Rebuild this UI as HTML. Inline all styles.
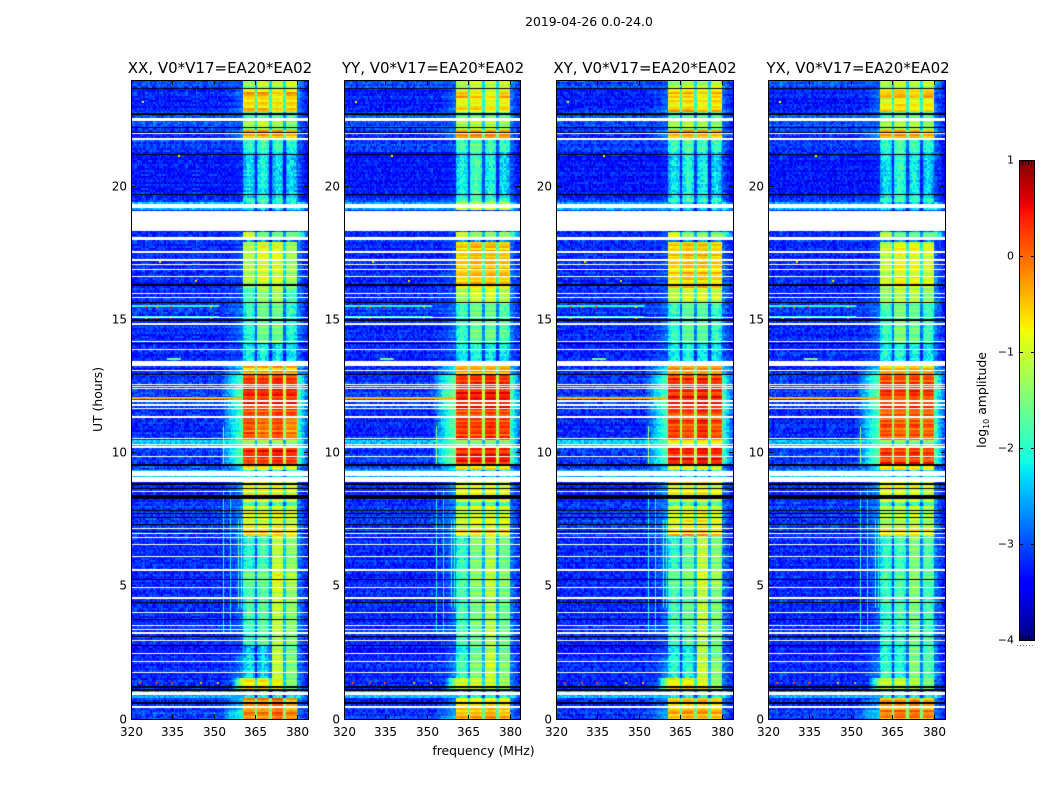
<!DOCTYPE html>
<html lang="en">
<head>
<meta charset="utf-8">
<title>2019-04-26 amplitude waterfall</title>
<style>
html,body{margin:0;padding:0;background:#fff;}
#figure{position:relative;width:1050px;height:800px;overflow:hidden;background:#fff;font-family:"DejaVu Sans","Liberation Sans",sans-serif;}
canvas{position:absolute;top:80px;}
svg{position:absolute;left:0;top:0;}
text{font-family:"DejaVu Sans","Liberation Sans",sans-serif;fill:#000;}
</style>
</head>
<body>
<div id="figure">
<canvas id="c0" width="177" height="640" style="left:131px"></canvas>
<canvas id="c1" width="176" height="640" style="left:344px"></canvas>
<canvas id="c2" width="177" height="640" style="left:556px"></canvas>
<canvas id="c3" width="177" height="640" style="left:768px"></canvas>
<svg id="overlay" width="1050" height="800" xmlns="http://www.w3.org/2000/svg">
<text x="589" y="26" text-anchor="middle" font-size="12.4">2019-04-26 0.0-24.0</text>
<text x="220" y="73" text-anchor="middle" font-size="15">XX, V0*V17=EA20*EA02</text>
<text x="433" y="73" text-anchor="middle" font-size="15">YY, V0*V17=EA20*EA02</text>
<text x="645" y="73" text-anchor="middle" font-size="15">XY, V0*V17=EA20*EA02</text>
<text x="858" y="73" text-anchor="middle" font-size="15">YX, V0*V17=EA20*EA02</text>
<text x="483.5" y="755" text-anchor="middle" font-size="12.4">frequency (MHz)</text>
<text transform="translate(102,399.5) rotate(-90)" text-anchor="middle" font-size="12.4">UT (hours)</text>
<text transform="translate(986,400) rotate(-90)" text-anchor="middle" font-size="12.4">log<tspan font-size="8" dy="3">10</tspan><tspan dy="-3"> amplitude</tspan></text>
</svg>
</div>
<script>
// Axis ticks
const freqTicks = [320, 335, 350, 365, 380];
const utTicks = [0, 5, 10, 15, 20];
const colorbarTicks = [1, 0, -1, -2, -3, -4];
const colorbarTickLabels = ["1", "0", "\u22121", "\u22122", "\u22123", "\u22124"];

// Frequency regions (MHz): background, two shoulders, four bright blocks and the dips between them
const regionEdges = [320, 352, 356.3, 360.5, 365.2, 365.6, 370.2, 371, 375.2, 375.8, 380, 384];

// Time bands (UT hours): one row of each level table per band
const bandEdges = [0,0.35,0.85,1.1,1.58,2.4,2.8,3.5,5,5.6,6.9,7.1,8,8.2,8.9,9.4,9.6,10.2,10.5,11.3,11.6,12.5,13,13.3,13.5,14.1,15.2,15.6,16.2,17,17.9,18.05,18.33,19.1,19.4,19.6,21.3,21.85,22.1,22.5,22.8,22.95,23.35,23.55,23.7,24];

// log10 amplitude for the 320-352 MHz background and for the 380-384 MHz edge
const backgroundLevels = [-3.1,-3.2,-2.5,-3.2,-3.2,-3.3,-3.2,-3.2,-3.2,-3.2,-3.1,-3.1,-3.1,-3.2,-2.5,-3,-3.1,-2.4,-3.2,-3.2,-3.1,-3.1,-3.2,-3.2,-3.2,-3.2,-3.1,-3.2,-3.2,-3.2,-3.1,-3.2,-3.2,-2.5,-3.1,-3.3,-3.1,-3.2,-3,-3,-3.2,-3.3,-3.2,-3.3,-3];
const edgeLevels = [-3,-3,-2.5,-3,-3,-3.1,-3,-3,-3,-3,-3,-3,-3,-3,-2.5,-3,-2.3,-2.4,-2.4,-2.4,-2.3,-2.3,-2.7,-3,-3.1,-3,-3,-3,-3,-3.1,-3.1,-2.2,-3,-2.5,-3.1,-3.2,-3.1,-3,-3,-3,-3,-3.1,-3,-3.1,-2.9];

// Per-polarisation levels: [shoulder1, shoulder2, block1, block2, block3, block4]
const xxLevels = [
[-2.4,-2.1,-.2,-.2,0,-.2],[-2.8,-2.5,-.35,-.3,-.1,-.5],[-2.5,-2.5,-2.2,-2.2,-2.2,-2.2],[-3.1,-.9,-.8,-.8,-.9,-1.5],[-3.1,-2.7,-2.3,-2.4,-1.1,-1.5],[-3.2,-3,-2.5,-2.5,-1.2,-1.6],[-3.1,-3,-2,-1.8,-1.2,-1.5],[-3.2,-2.8,-1.9,-1.8,-1.1,-1.4],[-3.1,-2.8,-1.6,-1.6,-.9,-1.2],[-3.1,-2.7,-2.1,-1.9,-1.1,-1.4],[-3,-2.5,-.4,-.4,-.4,-.6],
[-3,-2.6,-.9,-1,-.9,-1],[-3,-2.8,-1.9,-1.8,-1.9,-1.9],[-3,-2.6,-.8,-.8,-.8,-.9],[-2.5,-2.4,-2.2,-2.2,-2.2,-2.2],[-2.7,-2.2,-.7,-.7,-.7,-.9],[-2.3,-1.6,.25,.3,.4,.3],[-2.2,-1.6,-1.4,-1.4,-1.4,-1.4],[-2.4,-1.7,.1,-.1,.1,-.2],[-2.5,-1.8,0,0,.1,.05],[-2.4,-1.6,.3,.3,.35,.3],[-2.4,-1.7,.2,.2,.3,.2],
[-2.7,-2.2,-.4,-.4,-.3,-.4],[-3.1,-3,-2.2,-2.2,-2.3,-2.3],[-3.1,-3,-2.2,-2.2,-2.3,-2.3],[-3.1,-2.8,-2.1,-1.6,-1.6,-2.1],[-3,-2.8,-2,-1.6,-1.6,-2],[-3.1,-3,-1.9,-1.4,-1.3,-1.9],[-3.1,-3,-1.2,-1,-1,-1.3],[-3.2,-3,-1.2,-.9,-.9,-1.3],[-3.1,-3,-2.7,-2.7,-2.7,-2.7],[-3.2,-3,-1,-1.6,-1.6,-1.6],[-3.2,-3,-3,-3,-3,-3],[-2.6,-2.5,-2.3,-2.3,-2.3,-2.3],[-3.1,-3,-1.9,-1.8,-1.9,-2],[-3.3,-3.2,-2.4,-2.2,-2.4,-2.4],
[-3.1,-3,-2,-1.9,-2,-2.1],[-3,-2.6,-.4,-.3,-.3,-.5],[-3,-2.9,-1.3,-1.1,-1.3,-1.5],[-3,-2.9,-1.8,-1.7,-1.7,-1.8],[-3,-2.7,-.35,-.35,-.6,-.5],[-3.2,-2.9,-.75,-.7,-.8,-.7],[-3.1,-2.8,-.4,-.4,-.7,-.4],[-3.2,-2.9,-.8,-.75,-.8,-.75],[-3,-3,-1.4,-1.1,-1.2,-1]
];
const yyLevels = [
[-2.8,-2.5,-.45,-.4,-.3,-.45],[-3,-2.7,-.6,-.6,-.5,-.6],[-2.5,-2.5,-2.2,-2.2,-2.2,-2.2],[-3.1,-1.1,-1,-1,-1,-1.3],[-3.1,-2.7,-1.9,-1.5,-1.1,-1.5],[-3.2,-3,-2.1,-1.7,-1.2,-1.6],[-3.1,-3,-1.9,-1.6,-1.2,-1.6],[-3.2,-2.8,-1.9,-1.5,-1.2,-1.6],[-3.1,-2.8,-1.8,-1.4,-1.1,-1.4],[-3.1,-2.7,-2,-1.5,-1.2,-1.6],[-3,-2.5,-.6,-.5,-.5,-.6],
[-3,-2.6,-1.1,-.9,-.9,-1],[-3,-2.8,-1.9,-1.7,-1.8,-1.9],[-3,-2.6,-.9,-.8,-.8,-.9],[-2.5,-2.4,-2.2,-2.2,-2.2,-2.2],[-2.7,-2.2,-.8,-.7,-.7,-.8],[-2,-1.5,.35,.35,.4,.35],[-2.1,-1.6,-1.4,-1.4,-1.4,-1.4],[-2.2,-1.6,.25,.2,.3,.2],[-2.3,-1.7,.1,.1,.2,.15],[-2,-1.5,.35,.35,.4,.35],[-2.1,-1.6,.3,.3,.35,.3],
[-2.6,-2.1,-.3,-.3,-.3,-.3],[-3.1,-3,-2.2,-2.1,-2.2,-2.3],[-3.1,-3,-2.2,-2.1,-2.2,-2.3],[-3.1,-2.8,-2,-1.6,-1.6,-1.8],[-3,-2.8,-1.9,-1.6,-1.6,-1.8],[-3.1,-3,-1.3,-1,-1,-1.2],[-3.1,-3,-.6,-.5,-.5,-.55],[-3.2,-3,-.55,-.4,-.4,-.5],[-3.1,-3,-2.7,-2.7,-2.7,-2.7],[-3.2,-3,-.9,-1.3,-1.3,-1.3],[-3.2,-3,-3,-3,-3,-3],[-2.6,-2.5,-.9,-.9,-.9,-.9],[-3.1,-3,-1.9,-1.8,-1.9,-2],[-3.3,-3.2,-2.2,-1.9,-2.1,-2.4],
[-3.1,-3,-1.9,-1.7,-1.9,-2],[-3,-2.6,-.3,-.25,-.25,-.3],[-3,-2.9,-1.2,-1.1,-1.1,-1.3],[-3,-2.9,-1.7,-1.6,-1.6,-1.7],[-3,-2.7,-.6,-.55,-.7,-.65],[-3.2,-2.9,-.85,-.8,-.85,-.8],[-3.1,-2.8,-.4,-.6,-.8,-.45],[-3.2,-2.9,-.9,-.85,-.9,-.85],[-3,-3,-1.3,-1.1,-1.2,-1.1]
];
const xyLevels = [
[-2.8,-2.5,-.4,-.3,-.3,-.4],[-3,-2.7,-.55,-.5,-.45,-.6],[-2.5,-2.5,-2.2,-2.2,-2.2,-2.2],[-3.1,-1,-.8,-.8,-.9,-1.4],[-3.1,-2.7,-2.1,-2.1,-1.1,-1.5],[-3.2,-3,-2.2,-2.2,-1.2,-1.6],[-3.1,-3,-1.9,-1.8,-1.2,-1.6],[-3.2,-2.8,-1.9,-1.7,-1.1,-1.5],[-3.1,-2.8,-1.7,-1.5,-1,-1.3],[-3.1,-2.7,-2,-1.7,-1.1,-1.5],[-3,-2.5,-.5,-.4,-.4,-.6],
[-3,-2.6,-1,-.9,-.8,-1],[-3,-2.8,-1.9,-1.8,-1.8,-1.9],[-3,-2.6,-.8,-.8,-.7,-.9],[-2.5,-2.4,-2.2,-2.2,-2.2,-2.2],[-2.7,-2.2,-.7,-.7,-.7,-.9],[-2.3,-1.7,.35,.3,.4,.3],[-2.2,-1.6,-.9,-.9,-.9,-.9],[-2.4,-1.7,.2,.1,.3,.1],[-2.5,-1.8,.1,.1,.2,.1],[-2.3,-1.7,.35,.3,.4,.3],[-2.3,-1.7,.3,.25,.35,.25],
[-2.7,-2.2,-.3,-.3,-.3,-.3],[-3.1,-3,-2.2,-2.1,-2.2,-2.3],[-3.1,-3,-2.2,-2.1,-2.2,-2.3],[-3.1,-2.8,-2,-1.7,-1.7,-2],[-3,-2.8,-1.9,-1.7,-1.7,-1.9],[-3.1,-3,-1.2,-1,-1,-1.1],[-3.1,-3,-.7,-.55,-.55,-.65],[-3.2,-3,-.6,-.5,-.5,-.6],[-3.1,-3,-2.7,-2.7,-2.7,-2.7],[-3.2,-3,-1,-1.5,-1.5,-1.5],[-3.2,-3,-3,-3,-3,-3],[-2.6,-2.5,-2.3,-2.3,-2.3,-2.3],[-3.1,-3,-1.9,-1.8,-1.9,-2],[-3.3,-3.2,-2.3,-2.1,-2.2,-2.4],
[-3.1,-3,-2,-1.8,-1.9,-2],[-3,-2.6,-.45,-.35,-.4,-.5],[-3,-2.9,-1.2,-1.1,-1.2,-1.4],[-3,-2.9,-1.8,-1.7,-1.7,-1.8],[-3,-2.7,-.4,-.4,-.6,-.5],[-3.2,-2.9,-.75,-.7,-.8,-.7],[-3.1,-2.8,-.45,-.45,-.7,-.45],[-3.2,-2.9,-.8,-.75,-.8,-.75],[-3,-3,-1.3,-1.1,-1.2,-1]
];
const yxLevels = [
[-2.6,-2.4,-.2,-.1,-.1,-.2],[-2.9,-2.6,-.3,-.3,-.2,-.4],[-2.5,-2.5,-2.2,-2.2,-2.2,-2.2],[-3.1,-1.2,-1.1,-1.1,-1.2,-1.5],[-3.1,-2.7,-2,-2.1,-1.5,-1.8],[-3.2,-3,-2.2,-2.2,-1.6,-1.9],[-3.1,-3,-2,-2,-1.6,-1.9],[-3.2,-2.8,-2,-1.9,-1.5,-1.9],[-3.1,-2.8,-1.9,-1.8,-1.4,-1.7],[-3.1,-2.7,-2,-1.9,-1.5,-1.8],[-3,-2.5,-.6,-.6,-.6,-.7],
[-3,-2.6,-1.2,-1.1,-1,-1.2],[-3,-2.8,-2,-1.9,-1.9,-2],[-3,-2.6,-.9,-.9,-.9,-1],[-2.5,-2.4,-2.2,-2.2,-2.2,-2.2],[-2.7,-2.2,-.8,-.8,-.8,-.9],[-2.2,-1.6,.25,.2,.3,.2],[-2.2,-1.6,-1.4,-1.4,-1.4,-1.4],[-2.3,-1.7,.1,0,.1,0],[-2.4,-1.8,0,0,.05,0],[-2.2,-1.6,.25,.2,.3,.2],[-2.3,-1.7,.15,.15,.2,.15],
[-2.7,-2.2,-.4,-.4,-.35,-.4],[-3.1,-3,-2.2,-2.1,-2.2,-2.3],[-3.1,-3,-2.2,-2.1,-2.2,-2.3],[-3.1,-2.8,-1.9,-1.5,-1.6,-1.9],[-3,-2.8,-1.9,-1.5,-1.6,-1.9],[-3.1,-3,-1.4,-1.2,-1.2,-1.4],[-3.1,-3,-1.1,-.8,-.85,-1],[-3.2,-3,-1.1,-.8,-.85,-.95],[-3.1,-3,-2.7,-2.7,-2.7,-2.7],[-3.2,-3,-1.1,-1.6,-1.6,-1.6],[-3.2,-3,-3,-3,-3,-3],[-2.6,-2.5,-2.3,-2.3,-2.3,-2.3],[-3.1,-3,-1.9,-1.8,-1.9,-2],[-3.3,-3.2,-2.3,-2,-2.2,-2.4],
[-3.1,-3,-2,-1.8,-1.9,-2],[-3,-2.6,-.45,-.35,-.4,-.55],[-3,-2.9,-1.3,-1.2,-1.2,-1.4],[-3,-2.9,-1.8,-1.7,-1.7,-1.8],[-3,-2.7,-.5,-.5,-.7,-.6],[-3.2,-2.9,-.9,-.7,-.85,-.8],[-3.1,-2.8,-.5,-.45,-.6,-.4],[-3.2,-2.9,-.9,-.8,-.85,-.8],[-3,-3,-1.3,-1.1,-1.2,-1.1]
];
const panelLevels = [xxLevels, yyLevels, xyLevels, yxLevels];

// Flagged (blank) and zero-amplitude (black) integrations, UT hours [start, end]
const blankRows = [[.45,.49],[.92,1.03],[1.73,1.77],[2.14,2.18],[2.44,2.48],[2.95,3],[3.22,3.27],[3.36,3.41],[3.49,3.54],[4.01,4.05],[4.54,4.58],[4.92,4.96],[5.59,5.65],[6.08,6.12],[6.56,6.6],[6.82,6.86],[6.96,7],[7.17,7.2],[8.55,8.59],[8.92,9.1],[9.14,9.32],[9.85,9.89],[10.2,10.26],[10.3,10.33],[10.53,10.57],[11.33,11.37],[11.66,11.7],[11.78,11.82],[11.93,11.97],[12.41,12.45],[12.49,12.52],[12.56,12.6],[13.06,13.1],[13.27,13.45],[13.88,13.92],[14.15,14.19],[14.82,14.86],[15.07,15.11],[15.8,15.84],[15.98,16.02],[16.62,16.66],[16.88,16.92],[17.07,17.11],[17.22,17.27],[17.52,17.57],[18.01,18.1],[18.33,19.07],[19.2,19.36],[21.75,21.82],[21.97,22.01],[22.45,22.57]];
const zeroRows = [[.6,.64],[1.08,1.14],[1.2,1.24],[2.74,2.78],[3.08,3.12],[3.72,3.76],[4.36,4.4],[5.22,5.26],[7.05,7.09],[7.31,7.34],[7.58,7.61],[7.73,7.76],[7.84,7.87],[8.27,8.42],[8.67,8.7],[8.8,8.87],[9.53,9.57],[12.94,12.97],[14.09,14.13],[14.97,15.02],[15.62,15.66],[16.28,16.33],[19.68,19.72],[21.18,21.22],[22.02,22.06],[22.21,22.25],[22.7,22.76],[23.66,23.7]];

// Narrow interference features: [freq MHz, UT start, UT end, level]
const verticalStreaks = [[353.2,3.2,8.6,-2.1],[353.2,9.6,11,-1.3],[355.8,3.2,8.6,-2.2],[358.7,4.2,7.5,-2],[359.6,4.2,7.5,-2.1]];
// Horizontal lines: [UT start, UT end, freq start, freq end, level]
const horizontalStreaks = [[12.04,12.09,320,360,-0.4],[15.48,15.56,320,352,-2],[15.1,15.15,320,352,-1.9],[13.52,13.57,333,338,-1.6]];
// Isolated bright samples: [freq MHz, UT, level]
const hotSamples = [[325,15.5,.2],[329,15.5,-.2],[334,15.5,.3],[348.5,15.5,-.5],[325,15.1,-.3],[329,15.1,.2],[334,15.1,.3],[348.5,15.1,-.3],[323,1.4,.2],[329,1.4,.2],[334.5,1.4,.2],[345,1.4,-.4],[351,1.4,-.4],[324,23.2,-.8],[330,17.2,-.6],[337,21.2,-.8],[343,16.5,-.6]];

// Fine-grain texture offsets estimated by eye from the reference speckle
const rowRipple = [.1,-.15,.05,.2,-.1,0,-.2,.15,.05,-.05,.25,-.1,-.2,.1,0,.15,-.15,.05,-.05,.2,-.25,.1,0,-.1,.15,-.05,.05,-.2,.1,.2,-.1];
const channelRipple = [.05,-.1,.1,0,-.05,.15,-.15,.05,.1,-.1,0,.05,-.2,.15,.05,-.05,.1,-.15,.2,0,-.1,.05,-.05,.1,-.2,.15,0,.05,-.1];
const speckle = [.22,-.31,.08,.41,-.12,-.38,.17,.03,-.24,.35,-.07,.28,-.44,.11,.19,-.16,.46,-.29,.06,-.09,.33,-.36,.14,.25,-.2,-.02,.39,-.33,.09,-.14,.3,-.41,.16,.01,-.26,.37,-.05];
// Level across one block from its low-frequency to its high-frequency edge
const blockProfile = [-.3,-.1,0,.1,.15,.1,0,-.1,-.25];

const panelLefts = [131, 344, 556, 768];
const panelNames = ["xx", "yy", "xy", "yx"];

function xScale(panelLeft, mhz) { return panelLeft + (mhz - 320) * 2.766; }
function yScale(ut) { return 719.5 - ut * 26.65; }
function colorValue(v) { return 640 - (v + 4) * 96; }

function ramp(t, points) {
  for (let i = 1; i < points.length; i++) {
    if (t <= points[i][0]) {
      const a = points[i - 1];
      const b = points[i];
      return a[1] + (b[1] - a[1]) * (t - a[0]) / (b[0] - a[0]);
    }
  }
  return points[points.length - 1][1];
}
function jet(v) {
  const t = Math.max(0, Math.min(1, (v + 4) / 5));
  const r = ramp(t, [[0,0],[.35,0],[.66,1],[.89,1],[1,.5]]);
  const g = ramp(t, [[0,0],[.125,0],[.375,1],[.64,1],[.91,0],[1,0]]);
  const b = ramp(t, [[0,.5],[.11,1],[.34,1],[.65,0],[1,0]]);
  return "rgb(" + Math.round(r * 255) + "," + Math.round(g * 255) + "," + Math.round(b * 255) + ")";
}
function bandIndex(ut) {
  for (let i = 1; i < bandEdges.length; i++) { if (ut < bandEdges[i]) return i - 1; }
  return bandEdges.length - 2;
}
function blockCell(level, mhz, lo, hi, rowN, chanN, sp) {
  const frac = (mhz - lo) / (hi - lo);
  const prof = blockProfile[Math.min(blockProfile.length - 1, Math.floor(frac * blockProfile.length))];
  if (level < -1.75) return level + prof + sp * .7 + chanN * .3 + rowN * .4;
  return level + prof * .25 + sp * .15 + chanN * .1 + rowN * 1.2;
}
function gapCell(a, b, rowN, sp) {
  return (a + b) / 2 * .8 - 1.4 + sp * .3 + rowN * .4;
}
function cellValue(table, band, mhz, rowN, chanN, sp) {
  const row = table[band];
  const e = regionEdges;
  const bg = backgroundLevels[band];
  if (mhz < e[1]) return bg + sp * .7 + chanN * .3 + rowN * .5;
  if (mhz < e[2]) return bg + (row[0] - bg) * (mhz - e[1]) / (e[2] - e[1]) + sp * .6 + rowN * .5;
  if (mhz < e[3]) return row[0] + (row[1] - row[0]) * (mhz - e[2]) / (e[3] - e[2]) + sp * .4 + rowN * .6;
  if (mhz < e[4]) return blockCell(row[2], mhz, e[3], e[4], rowN, chanN, sp);
  if (mhz < e[5]) return gapCell(row[2], row[3], rowN, sp);
  if (mhz < e[6]) return blockCell(row[3], mhz, e[5], e[6], rowN, chanN, sp);
  if (mhz < e[7]) return gapCell(row[3], row[4], rowN, sp);
  if (mhz < e[8]) return blockCell(row[4], mhz, e[7], e[8], rowN, chanN, sp);
  if (mhz < e[9]) return gapCell(row[4], row[5], rowN, sp);
  if (mhz < e[10]) return blockCell(row[5], mhz, e[9], e[10], rowN, chanN, sp);
  const edge = edgeLevels[band];
  const slope = edge > -2.6 ? .35 : .15;
  return edge + (382 - mhz) * slope + sp * .6 + rowN * .5;
}

function drawPanel(p) {
  const ctx = document.getElementById("c" + p).getContext("2d");
  const left = panelLefts[p];
  const table = panelLevels[p];
  const nRows = 320, nChan = 128;
  const du = 24 / nRows, df = 64 / nChan;
  for (let r = 0; r < nRows; r++) {
    const ut = (r + .5) * du;
    const band = bandIndex(ut);
    const y0 = Math.round(yScale((r + 1) * du)) - 80;
    const y1 = Math.round(yScale(r * du)) - 80;
    const rowN = rowRipple[(r + p * 2) % rowRipple.length];
    for (let c = 0; c < nChan; c++) {
      const mhz = 320 + (c + .5) * df;
      const sp = speckle[(r * r * 7 + c * c * 13 + r * c * 3 + r * 5 + c * 2 + p * 11) % speckle.length];
      const chanN = channelRipple[(c + p * 3) % channelRipple.length];
      const x0 = Math.round(xScale(left, 320 + c * df)) - left;
      const x1 = Math.round(xScale(left, 320 + (c + 1) * df)) - left;
      ctx.fillStyle = jet(cellValue(table, band, mhz, rowN, chanN, sp));
      ctx.fillRect(x0, y0, x1 - x0, y1 - y0);
    }
  }
  verticalStreaks.forEach(function (s) {
    ctx.fillStyle = jet(s[3]);
    ctx.fillRect(Math.round(xScale(left, s[0])) - left, yScale(s[2]) - 80, 1, yScale(s[1]) - yScale(s[2]));
  });
  horizontalStreaks.forEach(function (s) {
    ctx.fillStyle = jet(s[4]);
    ctx.fillRect(xScale(left, s[2]) - left, Math.round(yScale(s[1])) - 80, xScale(left, s[3]) - xScale(left, s[2]), 2);
  });
  hotSamples.forEach(function (s) {
    ctx.fillStyle = jet(s[2]);
    ctx.fillRect(Math.round(xScale(left, s[0])) - left, Math.round(yScale(s[1])) - 80, 2, 2);
  });
  ctx.fillStyle = "#00000c";
  zeroRows.forEach(function (s) {
    const y = Math.round(yScale(s[1])) - 80;
    ctx.fillRect(0, y, 177, Math.max(1, Math.round(yScale(s[0])) - 80 - y));
  });
  ctx.fillStyle = "#ffffff";
  blankRows.forEach(function (s) {
    const y = Math.round(yScale(s[1])) - 80;
    ctx.fillRect(0, y, 177, Math.max(1, Math.round(yScale(s[0])) - 80 - y));
  });
}

const NS = "http://www.w3.org/2000/svg";
const overlay = document.getElementById("overlay");
function svgEl(tag, attrs, parent) {
  const el = document.createElementNS(NS, tag);
  for (const k in attrs) el.setAttribute(k, attrs[k]);
  (parent || overlay).appendChild(el);
  return el;
}

function drawAxes(p) {
  const left = panelLefts[p];
  const right = left + (p === 1 ? 176 : 177);
  const g = svgEl("g", {});
  
  
  const frame = svgEl("rect", { x: left + .5, y: 80.5, width: right - left, height: 639, fill: "none", stroke: "#000", "stroke-width": 1 }, g);
  
  
  freqTicks.forEach(function (f) {
    const x = Math.round(xScale(left, f)) + .5;
    const bottomTick = svgEl("path", { d: "M" + x + " 720V715M" + x + " 80V85", stroke: "#000", "stroke-width": 1 }, g);
    
    
    const label = svgEl("text", { x: x, y: 736, "text-anchor": "middle", "font-size": 12 }, g);
    label.textContent = String(f);
    
    
  });
  utTicks.forEach(function (u) {
    const y = Math.round(yScale(u)) - .5;
    const tick = svgEl("path", { d: "M" + left + " " + y + "h5M" + (right + 1) + " " + y + "h-5", stroke: "#000", "stroke-width": 1 }, g);
    
    
    const label = svgEl("text", { x: left - 4, y: y + 4, "text-anchor": "end", "font-size": 12 }, g);
    label.textContent = String(u);
    
    
  });
}

function drawColorbar() {
  const g = svgEl("g", {});
  
  
  const steps = 240;
  for (let i = 0; i < steps; i++) {
    const v = -4 + 5 * (i + .5) / steps;
    const top = colorValue(-4 + 5 * (i + 1) / steps);
    const cell = svgEl("rect", { x: 1019, y: top, width: 16, height: 2.2, fill: jet(v) }, g);
    
    
  }
  const frame = svgEl("rect", { x: 1019.5, y: 160.5, width: 15, height: 480, fill: "none", stroke: "#000", "stroke-width": 1 }, g);
  
  
  colorbarTicks.forEach(function (v, i) {
    const y = Math.round(colorValue(v)) + .5;
    const tick = svgEl("path", { d: "M1019 " + y + "h4M1035 " + y + "h-4", stroke: "#000", "stroke-width": 1 }, g);
    
    
    const label = svgEl("text", { x: 1014, y: y + 3, "text-anchor": "end", "font-size": 11 }, g);
    label.textContent = colorbarTickLabels[i];
    
    
  });
  const minor = svgEl("path", { d: "M1022.5 161v4M1025.5 161v4M1028.5 161v4M1031.5 161v4M1022.5 640v-4M1025.5 640v-4M1028.5 640v-4M1031.5 640v-4", stroke: "#000", "stroke-width": 1 }, g);
  
  
  const dots = svgEl("path", { d: "M1017 645.5H1035", stroke: "#777", "stroke-width": 1, "stroke-dasharray": "1 2" }, g);
  
  
}

for (let p = 0; p < 4; p++) {
  drawPanel(p);
  drawAxes(p);
}
drawColorbar();
</script>
</body>
</html>
